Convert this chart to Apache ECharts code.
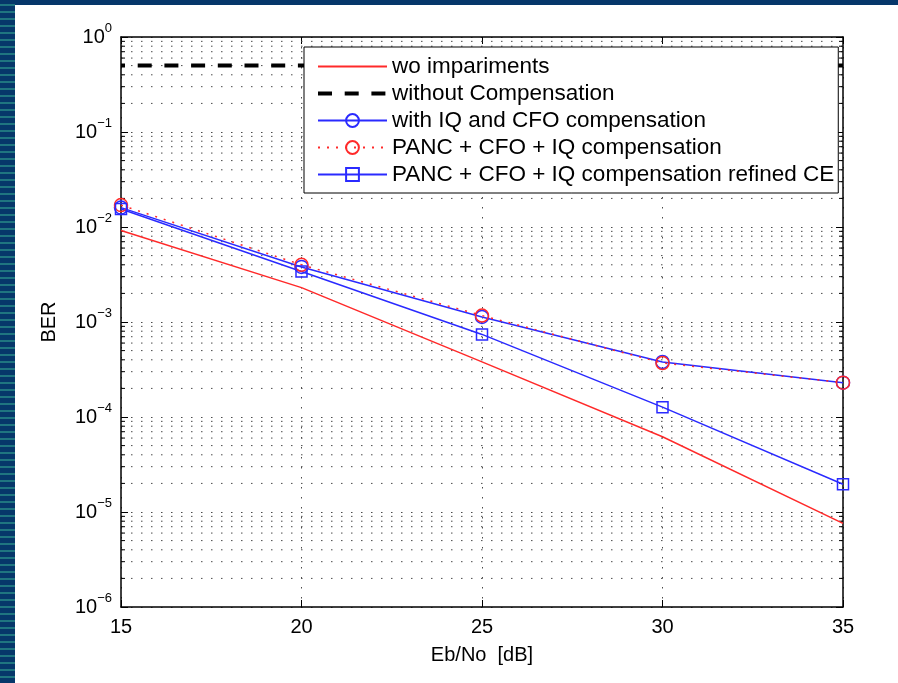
<!DOCTYPE html>
<html>
<head>
<meta charset="utf-8">
<script src="https://cdn.jsdelivr.net/npm/echarts@6/dist/echarts.min.js"></script>
<style>
  html, body { margin: 0; padding: 0; background: #ffffff; }
  #wrap { position: relative; width: 898px; height: 683px; overflow: hidden; background: #ffffff; }
  #topbar { position: absolute; left: 0; top: 0; width: 898px; height: 5px; background: #06376a; }
  #strip { position: absolute; left: 0; top: 0; width: 15px; height: 683px;
    background: repeating-linear-gradient(to bottom, #06376a 0px, #06376a 4px, #1f7580 4px, #1f7580 6px, #06376a 6px, #06376a 7px); }
  #chart { position: absolute; left: 0; top: 0; width: 898px; height: 683px; }
</style>
</head>
<body>
<div id="wrap">
  <div id="topbar"></div>
  <div id="strip"></div>
  <div id="chart"></div>
</div>
<script>
// ---- data ----
const ebNo = [15, 20, 25, 30, 35];
const berWoImpairments = [9.2e-3, 2.3e-3, 3.8e-4, 6.2e-5, 7.6e-6];
const berWithoutCompensation = [0.5, 0.5, 0.5, 0.5, 0.5];
const berIqCfo = [1.6e-2, 3.8e-3, 1.13e-3, 3.8e-4, 2.3e-4];
const berPancCfoIq = [1.7e-2, 4.0e-3, 1.17e-3, 3.7e-4, 2.3e-4];
const berPancRefinedCE = [1.55e-2, 3.4e-3, 7.4e-4, 1.27e-4, 1.96e-5];

const seriesNames = [
  'wo impariments',
  'without Compensation',
  'with IQ and CFO compensation',
  'PANC + CFO + IQ compensation',
  'PANC + CFO + IQ compensation refined CE'
];
const xTicks = [15, 20, 25, 30, 35];
const yDecades = [1e-6, 1e-5, 1e-4, 1e-3, 1e-2, 1e-1, 1e0];
const minorMultipliers = [2, 3, 4, 5, 6, 7, 8, 9];

// minor log grid positions (2..9 x each decade)
const minorGrid = [];
for (let i = 0; i < yDecades.length - 1; i++) {
  for (const m of minorMultipliers) minorGrid.push([xTicks[0], yDecades[i] * m]);
}

const FONT = '"Liberation Sans", Arial, Helvetica, sans-serif';
const RED = '#ff2a2a';
const BLUE = '#2a2aff';

const pair = arr => ebNo.map((x, i) => [x, arr[i]]);

const chart = echarts.init(document.getElementById('chart'), null, { renderer: 'canvas' });

const gridDot = { color: '#4a4a4a', width: 1, type: [1.5, 8.5] };

const option = {
  backgroundColor: 'transparent',
  animation: false,
  textStyle: { fontFamily: FONT },
  grid: { left: 121, right: 55, top: 37, bottom: 76, containLabel: false },
  legend: {
    orient: 'vertical',
    left: 304,
    top: 47,
    backgroundColor: '#ffffff',
    borderColor: '#000000',
    borderWidth: 1,
    padding: [8, 4, 7, 12],
    itemGap: 4,
    itemWidth: 69,
    itemHeight: 16,
    selectedMode: false,
    textStyle: { fontSize: 22.5, color: '#000', fontFamily: FONT, lineHeight: 22 },
    data: [
      { name: seriesNames[0], itemStyle: { opacity: 0 } },
      { name: seriesNames[1], itemStyle: { opacity: 0 }, lineStyle: { width: 4, dashOffset: 0 } },
      { name: seriesNames[2] },
      { name: seriesNames[3] },
      { name: seriesNames[4] }
    ]
  },
  xAxis: [
    {
      type: 'value', min: xTicks[0], max: xTicks[xTicks.length - 1], interval: 5,
      position: 'bottom',
      axisLine: { show: true, onZero: false, lineStyle: { color: '#000', width: 1.5 } },
      axisTick: { show: true, inside: true, length: 7, lineStyle: { color: '#000' } },
      axisLabel: { fontSize: 20, color: '#000', margin: 10, fontFamily: FONT },
      splitLine: { show: true, lineStyle: gridDot },
      name: 'Eb/No  [dB]', nameLocation: 'middle', nameGap: 38,
      nameTextStyle: { fontSize: 20, color: '#000', fontFamily: FONT }
    },
    {
      type: 'value', min: xTicks[0], max: xTicks[xTicks.length - 1], interval: 5,
      position: 'top',
      axisLine: { show: true, onZero: false, lineStyle: { color: '#000', width: 1.5 } },
      axisTick: { show: true, inside: true, length: 7, lineStyle: { color: '#000' } },
      axisLabel: { show: false },
      splitLine: { show: false }
    }
  ],
  yAxis: [
    {
      type: 'log', logBase: 10, min: yDecades[0], max: yDecades[yDecades.length - 1],
      splitNumber: 6,
      position: 'left',
      axisLine: { show: true, onZero: false, lineStyle: { color: '#000', width: 1.5 } },
      axisTick: { show: true, inside: true, length: 7, lineStyle: { color: '#000' } },
      axisLabel: {
        margin: 9,
        formatter: function (v) {
          const e = Math.round(Math.log10(v));
          const sup = e === 0 ? '0' : (e < 0 ? '\u2212' + (-e) : String(e));
          return '{b|10}{s|' + sup + '}';
        },
        rich: {
          b: { fontSize: 20, color: '#000', fontFamily: FONT },
          s: { fontSize: 13, color: '#000', fontFamily: FONT, padding: [0, 0, 18, 0] }
        }
      },
      splitLine: { show: true, lineStyle: gridDot },
      name: 'BER', nameLocation: 'middle', nameGap: 62, nameRotate: 90,
      nameTextStyle: { fontSize: 20, color: '#000', fontFamily: FONT }
    },
    {
      type: 'log', logBase: 10, min: yDecades[0], max: yDecades[yDecades.length - 1],
      splitNumber: 6,
      position: 'right',
      axisLine: { show: true, onZero: false, lineStyle: { color: '#000', width: 1.5 } },
      axisTick: { show: true, inside: true, length: 7, lineStyle: { color: '#000' } },
      axisLabel: { show: false },
      splitLine: { show: false }
    }
  ],
  series: [
    {
      name: 'minorGrid',
      type: 'custom',
      silent: true,
      z: 1,
      xAxisIndex: 0, yAxisIndex: 0,
      encode: { x: 0, y: 1 },
      data: minorGrid,
      renderItem: function (params, api) {
        const cs = params.coordSys;
        const y = api.coord([api.value(0), api.value(1)])[1];
        return {
          type: 'group',
          children: [
            { type: 'line', shape: { x1: cs.x, y1: y, x2: cs.x + cs.width, y2: y },
              style: { stroke: '#4a4a4a', lineWidth: 1, lineDash: [1.5, 8.5] } },
            { type: 'line', shape: { x1: cs.x, y1: y, x2: cs.x + 4, y2: y },
              style: { stroke: '#000', lineWidth: 1 } },
            { type: 'line', shape: { x1: cs.x + cs.width - 4, y1: y, x2: cs.x + cs.width, y2: y },
              style: { stroke: '#000', lineWidth: 1 } }
          ]
        };
      }
    },
    {
      name: seriesNames[0], type: 'line', data: pair(berWoImpairments),
      showSymbol: false, symbol: 'circle', symbolSize: 0,
      lineStyle: { color: RED, width: 1.5 },
      itemStyle: { color: 'rgba(0,0,0,0)', borderWidth: 0 },
      z: 3
    },
    {
      name: seriesNames[1], type: 'line', data: pair(berWithoutCompensation),
      showSymbol: false, symbol: 'circle', symbolSize: 0,
      lineStyle: { color: '#000', width: 4, type: [14, 12.7], dashOffset: 10 },
      itemStyle: { color: 'rgba(0,0,0,0)', borderWidth: 0 },
      z: 3
    },
    {
      name: seriesNames[2], type: 'line', data: pair(berIqCfo),
      symbol: 'circle', symbolSize: 13,
      lineStyle: { color: BLUE, width: 1.5 },
      itemStyle: { color: 'rgba(0,0,0,0)', borderColor: BLUE, borderWidth: 1.5 },
      z: 3
    },
    {
      name: seriesNames[3], type: 'line', data: pair(berPancCfoIq),
      symbol: 'circle', symbolSize: 13,
      lineStyle: { color: RED, width: 1.5, type: [2, 7] },
      itemStyle: { color: 'rgba(0,0,0,0)', borderColor: RED, borderWidth: 1.5 },
      z: 3
    },
    {
      name: seriesNames[4], type: 'line', data: pair(berPancRefinedCE),
      symbol: 'rect', symbolSize: 11,
      lineStyle: { color: BLUE, width: 1.5 },
      itemStyle: { color: 'rgba(0,0,0,0)', borderColor: BLUE, borderWidth: 1.5 },
      z: 3
    }
  ]
};

chart.setOption(option);
</script>
</body>
</html>
